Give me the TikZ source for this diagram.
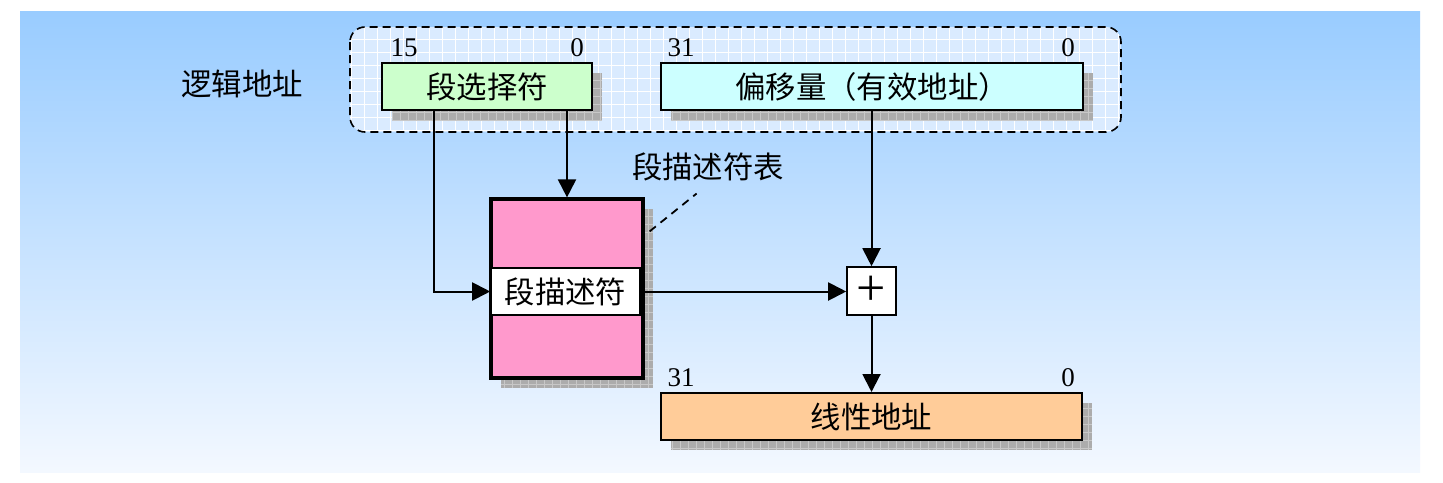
\documentclass[tikz,border=0pt]{standalone}
\usepackage{fontspec}
\setmainfont{Liberation Serif}
\newfontfamily\cjk{Noto Sans CJK SC}
\usetikzlibrary{arrows.meta,calc}
\definecolor{bgtop}{RGB}{153,204,255}
\definecolor{bgbot}{RGB}{243,248,255}
\definecolor{grpfill}{RGB}{218,235,255}
\definecolor{selfill}{RGB}{204,255,204}
\definecolor{offfill}{RGB}{204,255,255}
\definecolor{tabfill}{RGB}{255,153,204}
\definecolor{linfill}{RGB}{255,204,153}
\definecolor{shgray}{RGB}{172,172,172}
\definecolor{shline}{RGB}{200,200,200}
\tikzset{
  regbox/.style={draw=black, line width=1pt, inner sep=0pt, font=\cjk\fontsize{15.2}{17}\selectfont},
  bitnum/.style={inner sep=0pt, anchor=base, font=\fontsize{13.5}{16}\selectfont},
  cjklabel/.style={inner sep=0pt, font=\cjk\fontsize{15.2}{17}\selectfont},
  arr/.style={line width=1pt, -{Triangle[length=9pt,width=9pt]}},
  shadowfill/.style={fill=shgray},
  shadowgrid/.style={draw=shline, line width=0.3pt, step=4pt}
}
\newcommand{\shadowrect}[4]{%
  \begin{scope}
    \clip (#1,#2) rectangle (#3,#4);
    \fill[shadowfill] (#1,#2) rectangle (#3,#4);
    \draw[shadowgrid] (#1,#2) grid (#3,#4);
  \end{scope}}
\begin{document}
\begin{tikzpicture}[x=0.5pt,y=-0.5pt]
\useasboundingbox (0,0) rectangle (1443,482);
\fill[white] (0,0) rectangle (1443,482);
\shade[top color=bgtop, bottom color=bgbot] (20,11) rectangle (1420,472);

% logical address group
\begin{scope}
  \clip[rounded corners=7.5pt] (350,27) rectangle (1121,132);
  \fill[grpfill] (350,27) rectangle (1121,132);
  \draw[white, line width=0.45pt, step=6.5pt] (350,27) grid (1121,132);
\end{scope}
\draw[dashed, line width=0.8pt, dash pattern=on 4pt off 2.5pt, rounded corners=7.5pt] (350,27) rectangle (1121,132);

\node[cjklabel] (logic) at (242,84) {逻辑地址};

% shadows
\shadowrect{392}{73}{602}{121}
\shadowrect{671}{73}{1093}{121}
\shadowrect{501}{209}{653}{388}
\shadowrect{671}{403}{1092}{450}

% boxes
\node[regbox, fill=selfill, minimum width=105pt, minimum height=23.5pt] (sel) at (487,86.5) {段选择符};
\node[regbox, fill=offfill, minimum width=211pt, minimum height=23.5pt] (off) at (872,86.5) {偏移量（有效地址）};
\node[regbox, fill=tabfill, line width=1.6pt, minimum width=76pt, minimum height=89.5pt] (tab) at (567,288.5) {};
\node[regbox, fill=white, line width=0.8pt, minimum width=74.5pt, minimum height=23.5pt] (desc) at (565.5,291.5) {段描述符};
\node[regbox, fill=white, line width=0.8pt, minimum width=24.5pt, minimum height=24pt, font=\fontsize{26}{26}\selectfont] (plus) at (871.5,291) {+};
\node[regbox, fill=linfill, minimum width=210.5pt, minimum height=23.5pt] (lin) at (871.5,416.5) {线性地址};

% bit numbers
\node[bitnum] (b15) at (404,56) {15};
\node[bitnum] (b0a) at (577,56) {0};
\node[bitnum] (b31a) at (681,56) {31};
\node[bitnum] (b0b) at (1068,56) {0};
\node[bitnum] (b31b) at (681,386) {31};
\node[bitnum] (b0c) at (1068,386) {0};

% table label
\node[cjklabel] (tlabel) at (708,167) {段描述符表};
\draw[dashed, line width=0.9pt, dash pattern=on 4pt off 3pt] ([xshift=2.5pt,yshift=-17pt]tab.north east) -- ([xshift=32.5pt,yshift=-6pt]tlabel.south west);

% connectors
\draw[arr] ([xshift=26.5pt]sel.south west) |- (desc.west);
\draw[arr] (sel.south -| tab.north) -- (tab.north);
\draw[arr] (off.south -| plus.north) -- (plus.north);
\draw[arr] (desc.east) -- (desc.east -| plus.west);
\draw[arr] (plus.south) -- (lin.north);
\end{tikzpicture}
\end{document}
